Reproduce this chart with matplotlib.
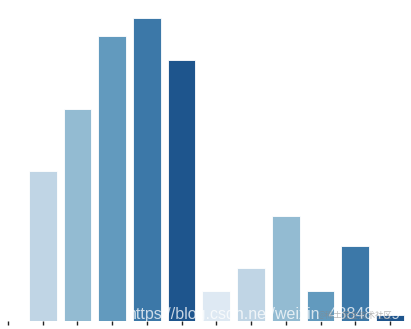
import matplotlib
matplotlib.use("Agg")
import matplotlib.pyplot as plt
import seaborn as sns
import numpy as np

# values (bar heights, arbitrary units)
categories = list(range(12))
values = [0, 150, 212, 285, 303, 261, 30, 53, 105, 30, 75, 6]

sns.set_style("white")
palette = sns.color_palette("Blues", 6) * 2

fig = plt.figure(figsize=(4.11, 3.29), dpi=100)
ax = fig.add_axes([-0.0229, 0.0243, 1.014, 0.967])
sns.barplot(x=categories, y=values, hue=categories, palette=palette,
            legend=False, ax=ax, edgecolor="white", linewidth=0.6)

ax.set_xticklabels([])
ax.set_yticks([])
ax.set_xlabel("")
ax.set_ylabel("")
ax.tick_params(axis="x", bottom=True, length=3, width=1, color="#222222")
sns.despine(left=True, bottom=True)

# csdn watermark
fig.text(0.31, 0.03, "https://blog.csdn.net/weixin_43848469", color="white",
         alpha=0.75, fontsize=11.5, family="Liberation Sans")
fig.text(0.955, 0.035, "@稀土掘金技术社区", color="#888888", alpha=0.6,
         fontsize=6, ha="right", family=["Noto Sans CJK SC", "DejaVu Sans"])

fig.savefig("out.png", dpi=100)
